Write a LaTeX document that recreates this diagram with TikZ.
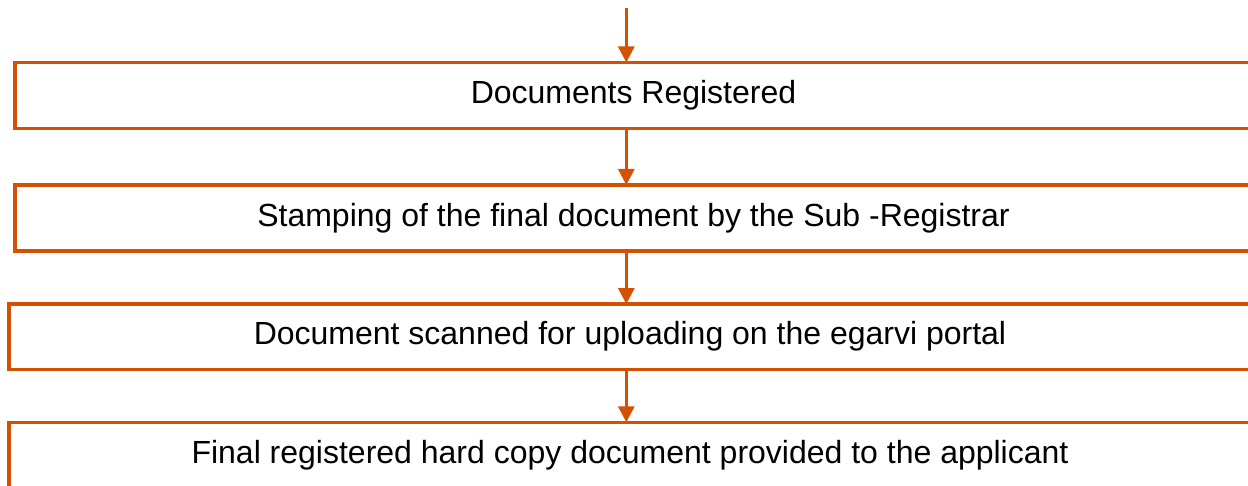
\documentclass[tikz,border=0pt]{standalone}
\usepackage{fontspec}
\setmainfont{Liberation Sans}
\usetikzlibrary{arrows.meta}
\definecolor{boxorange}{RGB}{211,81,0}
\begin{document}
\begin{tikzpicture}[x=1pt,y=-1pt,
  stepbox/.style={draw=boxorange,line width=3.3pt,rectangle,inner sep=0pt,outer sep=0pt,
    font=\fontsize{32}{36}\selectfont,text height=23pt,text depth=6.7pt,text=black},
  flow/.style={draw=boxorange,line width=3pt,-{Triangle[length=16pt,width=16pt]}}]
\useasboundingbox (0,0) rectangle (1248,486);
\begin{scope}
\clip (0,0) rectangle (1248,486);
\node[stepbox,minimum width=1237pt,minimum height=65.8pt] (b1) at (633.5,95.4) {Documents Registered};
\node[stepbox,minimum width=1237pt,minimum height=66pt] (b2) at (633.5,218) {Stamping of the final document by the Sub -Registrar};
\node[stepbox,minimum width=1242pt,minimum height=65.3pt] (b3) at (630,336.7) {Document scanned for uploading on the egarvi portal};
\node[stepbox,minimum width=1242pt,minimum height=66pt] (b4) at (630,455.3) {Final registered hard copy document provided to the applicant};
\coordinate (s) at (626.3,8);
\draw[flow] (s) -- (s |- b1.north);
\draw[flow] (b1.south -| s) -- (b2.north -| s);
\draw[flow] (b2.south -| s) -- (b3.north -| s);
\draw[flow] (b3.south -| s) -- (b4.north -| s);
\end{scope}
\end{tikzpicture}
\end{document}
